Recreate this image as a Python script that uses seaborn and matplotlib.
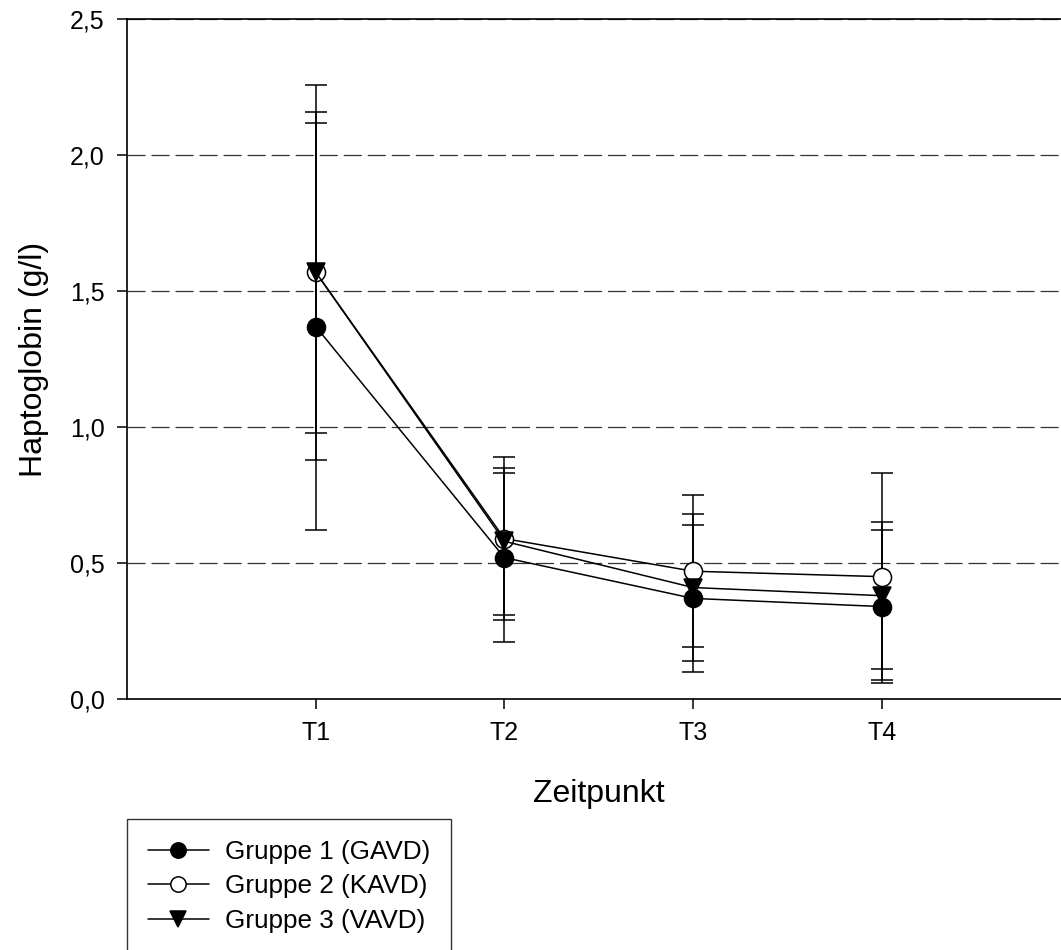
import matplotlib
matplotlib.use("Agg")
import matplotlib.pyplot as plt
import numpy as np
import pandas as pd
import seaborn as sns

# ---- data ----
timepoints = ["T1", "T2", "T3", "T4"]
groups = ["Gruppe 1 (GAVD)", "Gruppe 2 (KAVD)", "Gruppe 3 (VAVD)"]
g1_mean = [1.37, 0.52, 0.37, 0.34]
g1_sd = [0.75, 0.31, 0.27, 0.28]
g2_mean = [1.57, 0.59, 0.47, 0.45]
g2_sd = [0.59, 0.30, 0.28, 0.38]
g3_mean = [1.57, 0.58, 0.41, 0.38]
g3_sd = [0.69, 0.27, 0.27, 0.27]
y_ticks = [0.0, 0.5, 1.0, 1.5, 2.0, 2.5]
y_ticklabels = ["0,0", "0,5", "1,0", "1,5", "2,0", "2,5"]

sns.set_theme(style="white")
plt.rcParams["font.family"] = ["Liberation Sans", "DejaVu Sans"]
plt.rcParams["lines.scale_dashes"] = False
plt.rcParams["text.color"] = "black"
plt.rcParams["axes.labelcolor"] = "black"
plt.rcParams["xtick.color"] = "black"
plt.rcParams["ytick.color"] = "black"

fig = plt.figure(figsize=(10.61, 9.5), dpi=100)
ax = fig.add_axes([127 / 1061, (950 - 699) / 950, 943.5 / 1061, (699 - 19.3) / 950])

xpos = np.arange(1, len(timepoints) + 1)
means = [g1_mean, g2_mean, g3_mean]
sds = [g1_sd, g2_sd, g3_sd]
styles = [
    dict(marker="o", markerfacecolor="black", markersize=13),
    dict(marker="o", markerfacecolor="white", markersize=13),
    dict(marker="v", markerfacecolor="black", markersize=13),
]

for name, m, s, st in zip(groups, means, sds, styles):
    df = pd.DataFrame({"x": xpos, "y": m})
    ax.errorbar(df["x"], df["y"], yerr=s, fmt="none", ecolor="black",
                elinewidth=1.1, capsize=7.9, capthick=1.1, zorder=2)
    sns.lineplot(data=df, x="x", y="y", ax=ax, color="black", lw=1.1,
                 markeredgecolor="black", markeredgewidth=1.1,
                 label=name, zorder=3, **st)

ax.set_xlim(0, 5)
ax.set_ylim(0, 2.5)
ax.set_xticks(xpos)
ax.set_xticklabels(timepoints)
ax.set_yticks(y_ticks)
ax.set_yticklabels(y_ticklabels)

ax.yaxis.grid(True, color="#333333", lw=0.9, linestyle=(0, (13, 4.3)))
ax.xaxis.grid(False)
ax.set_axisbelow(True)

for side in ["left", "bottom", "top"]:
    ax.spines[side].set_color("black")
    ax.spines[side].set_linewidth(1.2)
ax.spines["right"].set_visible(False)

ax.tick_params(axis="both", direction="out", length=7.2, width=1.1,
               color="black", labelsize=18, pad=9.0, labelcolor="black")
ax.tick_params(axis="x", bottom=True)
ax.tick_params(axis="y", left=True)

ax.set_xlabel("Zeitpunkt", fontsize=23, labelpad=24, color="black")
ax.set_ylabel("Haptoglobin (g/l)", fontsize=23, labelpad=15, color="black")

handles, labels = ax.get_legend_handles_labels()
ax.get_legend().remove()
leg = fig.legend(handles, labels, loc="upper left",
                 bbox_to_anchor=(127 / 1061, 1 - 819 / 950),
                 bbox_transform=fig.transFigure,
                 fontsize=18.8, frameon=True, fancybox=False,
                 edgecolor="black", handlelength=2.34, handletextpad=0.61,
                 borderpad=0.8, labelspacing=0.40, borderaxespad=0,
                 markerscale=0.85)
leg.get_frame().set_linewidth(1.0)
leg.get_frame().set_facecolor("white")
for t in leg.get_texts():
    t.set_color("black")

fig.savefig("out.png", dpi=100)
